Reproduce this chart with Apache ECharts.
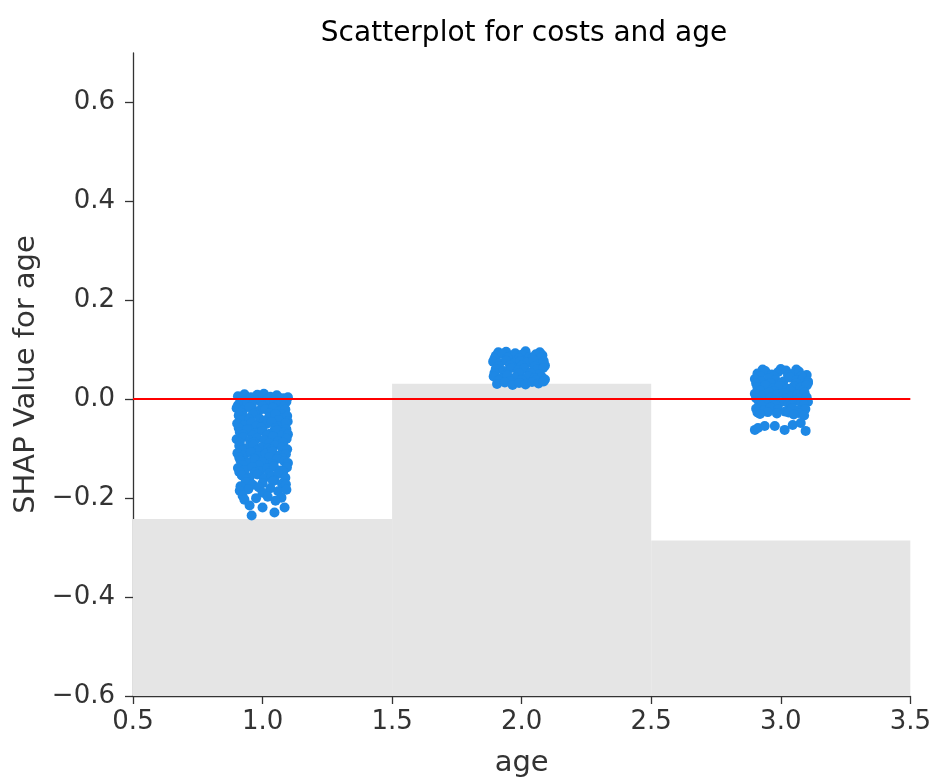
<!DOCTYPE html>
<html>
<head>
<meta charset="utf-8">
<style>
html,body{margin:0;padding:0;background:#fff;overflow:hidden;width:100%;height:100%;}
#chart{width:100vw;height:100vh;}
</style>
<script src="https://cdn.jsdelivr.net/npm/echarts@6/dist/echarts.min.js"></script>
</head>
<body>
<div id="chart"></div>
<script>
// ---- data ----
const titleText = 'Scatterplot for costs and age';
const xLabel = 'age';
const yLabel = 'SHAP Value for age';
const xTicks = [0.5, 1.0, 1.5, 2.0, 2.5, 3.0, 3.5];
const yTicks = [-0.6, -0.4, -0.2, 0.0, 0.2, 0.4, 0.6];
const binEdges = [0.5, 1.5, 2.5, 3.5];
const binHeights = [-0.242, 0.0315, -0.2856];
const zeroLineValue = 0;

const age1Points = [
  [0.905,0.006],[0.93,0.010],[0.955,0.004],[0.98,0.009],[1.005,0.011],[1.03,0.005],[1.055,0.008],[1.08,0.002],
  [0.918,0.001],[0.965,0.003],[1.017,0.000],[1.066,0.002],[1.098,0.004],
  [0.915,-0.004],[0.94,-0.008],[0.97,-0.002],[0.995,-0.006],[1.02,-0.010],[1.045,-0.003],[1.07,-0.007],[1.092,-0.005],
  [0.905,-0.012],[0.958,-0.013],[1.00,-0.014],[1.056,-0.012],[1.082,-0.015],
  [0.90,-0.018],[0.925,-0.022],[0.95,-0.016],[0.985,-0.024],[1.01,-0.020],[1.04,-0.017],[1.062,-0.025],[1.088,-0.021],
  [0.915,-0.027],[0.97,-0.029],[1.028,-0.028],[1.075,-0.030],
  [0.908,-0.033],[0.935,-0.038],[0.962,-0.031],[0.99,-0.040],[1.025,-0.036],[1.05,-0.030],[1.078,-0.039],[1.095,-0.034],
  [0.92,-0.043],[0.948,-0.041],[1.005,-0.044],[1.062,-0.042],[1.097,-0.045],
  [0.902,-0.049],[0.928,-0.053],[0.958,-0.047],[0.976,-0.055],[1.015,-0.050],[1.035,-0.046],[1.066,-0.054],[1.09,-0.048],
  [0.908,-0.058],[0.945,-0.060],[0.995,-0.057],[1.048,-0.059],[1.092,-0.061],
  [0.912,-0.066],[0.94,-0.062],[0.97,-0.069],[1.00,-0.064],[1.028,-0.070],[1.055,-0.063],[1.082,-0.067],
  [0.925,-0.072],[0.962,-0.074],[1.018,-0.073],[1.072,-0.074],[1.098,-0.071],
  [0.90,-0.081],[0.924,-0.077],[0.952,-0.084],[0.98,-0.079],[1.008,-0.083],[1.04,-0.076],[1.06,-0.085],[1.093,-0.080],
  [0.912,-0.088],[0.966,-0.087],[1.025,-0.089],[1.08,-0.088],
  [0.91,-0.094],[0.938,-0.099],[0.965,-0.092],[0.995,-0.097],[1.022,-0.100],[1.048,-0.093],[1.075,-0.098],
  [0.922,-0.103],[0.978,-0.104],[1.035,-0.102],[1.095,-0.101],
  [0.903,-0.109],[0.93,-0.113],[0.955,-0.107],[0.984,-0.115],[1.012,-0.110],[1.038,-0.106],[1.065,-0.114],[1.09,-0.111],
  [0.91,-0.118],[0.967,-0.119],[1.025,-0.117],[1.078,-0.120],
  [0.915,-0.124],[0.945,-0.128],[0.972,-0.122],[1.00,-0.127],[1.03,-0.130],[1.056,-0.121],[1.084,-0.126],
  [0.922,-0.133],[0.985,-0.134],[1.04,-0.131],[1.098,-0.129],
  [0.905,-0.139],[0.932,-0.143],[0.96,-0.137],[0.99,-0.145],[1.018,-0.140],[1.044,-0.136],[1.07,-0.144],[1.094,-0.138],
  [0.91,-0.147],[0.97,-0.148],[1.025,-0.149],[1.08,-0.146],
  [0.92,-0.154],[0.95,-0.158],[0.98,-0.152],[1.005,-0.160],[1.035,-0.156],[1.06,-0.151],[1.088,-0.159],
  [0.935,-0.163],[1.045,-0.164],
  [0.935,-0.168],[0.962,-0.173],[1.00,-0.170],[1.04,-0.166],[1.075,-0.171],
  [0.915,-0.176],[0.945,-0.182],[0.985,-0.178],[1.03,-0.180],[1.06,-0.186],[1.09,-0.172],
  [0.912,-0.185],[0.923,-0.195],[1.00,-0.189],[1.073,-0.199],[1.092,-0.183],
  [0.93,-0.203],[0.975,-0.200],[1.02,-0.197],[1.05,-0.205],
  [0.95,-0.215],[1.00,-0.219],[1.085,-0.219],[1.046,-0.229],[0.958,-0.235]
];
const age2Points = [
  [1.91,0.095],[1.94,0.096],[2.015,0.097],[2.07,0.095],
  [1.90,0.088],[1.925,0.092],[1.955,0.086],[1.975,0.093],[2.00,0.090],[2.03,0.085],[2.055,0.091],[2.08,0.089],
  [1.895,0.082],[1.945,0.084],[1.99,0.083],[2.04,0.082],[2.075,0.084],
  [1.89,0.076],[1.915,0.073],[1.94,0.078],[1.97,0.072],[1.995,0.077],[2.02,0.074],[2.045,0.079],[2.07,0.071],[2.085,0.077],
  [1.91,0.067],[1.955,0.069],[2.00,0.068],[2.05,0.066],[2.09,0.068],
  [1.90,0.061],[1.93,0.057],[1.96,0.063],[1.985,0.058],[2.01,0.062],[2.04,0.056],[2.06,0.060],[2.083,0.063],
  [1.895,0.053],[1.94,0.051],[1.99,0.052],[2.035,0.053],[2.07,0.051],
  [1.892,0.046],[1.92,0.042],[1.945,0.048],[1.975,0.044],[2.005,0.041],[2.025,0.047],[2.05,0.043],[2.078,0.045],
  [1.91,0.038],[1.955,0.037],[2.00,0.039],[2.055,0.038],[2.09,0.040],
  [1.905,0.031],[1.935,0.034],[1.965,0.029],[1.99,0.033],[2.015,0.030],[2.04,0.035],[2.065,0.032],[2.085,0.036]
];
const age3Points = [
  [2.93,0.060],[3.00,0.061],[3.06,0.060],
  [2.91,0.052],[2.94,0.057],[2.965,0.050],[2.99,0.055],[3.02,0.058],[3.045,0.051],[3.07,0.056],[3.10,0.049],
  [2.92,0.047],[2.975,0.046],[3.028,0.048],[3.08,0.047],
  [2.90,0.041],[2.925,0.037],[2.955,0.043],[2.98,0.039],[3.01,0.036],[3.035,0.044],[3.06,0.038],[3.085,0.042],[3.105,0.036],
  [2.905,0.032],[2.96,0.033],[3.00,0.031],[3.06,0.032],[3.105,0.033],
  [2.91,0.024],[2.94,0.028],[2.97,0.022],[2.995,0.027],[3.025,0.021],[3.05,0.026],[3.075,0.023],[3.10,0.028],
  [2.92,0.017],[2.975,0.016],[3.035,0.018],[3.085,0.017],
  [2.90,0.011],[2.93,0.007],[2.955,0.013],[2.985,0.009],[3.012,0.012],[3.04,0.006],[3.065,0.010],[3.092,0.013],
  [2.905,0.002],[2.96,0.003],[3.02,0.001],[3.07,0.002],[3.10,0.004],
  [2.915,-0.004],[2.945,-0.008],[2.975,-0.002],[3.00,-0.006],[3.03,-0.009],[3.055,-0.003],[3.08,-0.007],[3.105,-0.005],
  [2.925,-0.013],[2.98,-0.012],[3.04,-0.013],[3.09,-0.011],
  [2.905,-0.019],[2.935,-0.023],[2.96,-0.017],[2.99,-0.021],[3.018,-0.025],[3.045,-0.018],[3.07,-0.022],[3.095,-0.020],
  [2.91,-0.027],[2.95,-0.026],[3.03,-0.027],[3.07,-0.028],
  [2.92,-0.030],[2.985,-0.029],[3.05,-0.031],[3.09,-0.033],
  [2.90,-0.062],[2.912,-0.058],[2.938,-0.054],[2.977,-0.054],[3.015,-0.062],[3.046,-0.052],[3.077,-0.048],[3.096,-0.064]
];

// ---- chart ----
const FONT = 'DejaVu Sans';
const AXIS_COLOR = '#333333';
const fmt = v => (Math.round(v * 10) / 10).toFixed(1).replace('-', '\u2212');
const binData = binHeights.map((h, i) => [binEdges[i], binEdges[i + 1], h]);
const yMin = yTicks[0];

const chart = echarts.init(document.getElementById('chart'), null, {renderer: 'canvas'});
chart.setOption({
  animation: false,
  backgroundColor: '#ffffff',
  title: {
    text: titleText,
    left: 519,
    top: 15,
    textAlign: 'center',
    textStyle: {fontFamily: FONT, fontSize: 28, fontWeight: 'normal', color: '#000000'}
  },
  grid: {left: 133, right: 21, top: 53, bottom: 83, containLabel: false},
  xAxis: {
    type: 'value', min: 0.5, max: 3.5, interval: 0.5,
    name: xLabel, nameLocation: 'middle', nameGap: 53,
    nameTextStyle: {fontFamily: FONT, fontSize: 29, color: AXIS_COLOR},
    axisLine: {show: true, onZero: false, lineStyle: {color: AXIS_COLOR, width: 1.3}},
    axisTick: {show: true, length: 8, lineStyle: {color: AXIS_COLOR, width: 1.3}, customValues: xTicks},
    axisLabel: {fontFamily: FONT, fontSize: 26, color: AXIS_COLOR, margin: 13, formatter: fmt, customValues: xTicks},
    splitLine: {show: false}
  },
  yAxis: {
    type: 'value', min: -0.6, max: 0.7,
    name: yLabel, nameLocation: 'middle', nameGap: 86,
    nameTextStyle: {fontFamily: FONT, fontSize: 29, color: AXIS_COLOR},
    axisLine: {show: true, onZero: false, lineStyle: {color: AXIS_COLOR, width: 1.3}},
    axisTick: {show: true, length: 8, lineStyle: {color: AXIS_COLOR, width: 1.3}, customValues: yTicks},
    axisLabel: {fontFamily: FONT, fontSize: 26, color: AXIS_COLOR, margin: 18, formatter: fmt, customValues: yTicks},
    splitLine: {show: false}
  },
  series: [
    {
      type: 'custom', z: 1, silent: true,
      data: binData,
      encode: {x: [0, 1], y: 2},
      renderItem: function (params, api) {
        const p0 = api.coord([api.value(0), api.value(2)]);
        const p1 = api.coord([api.value(1), yMin]);
        return {type: 'rect', shape: {x: p0[0], y: p0[1], width: p1[0] - p0[0], height: p1[1] - p0[1]},
                style: {fill: '#e5e5e5'}};
      }
    },
    {type: 'scatter', z: 2, symbol: 'circle', symbolSize: 10, data: age1Points, itemStyle: {color: '#1E88E5', opacity: 1}},
    {type: 'scatter', z: 2, symbol: 'circle', symbolSize: 10, data: age2Points, itemStyle: {color: '#1E88E5', opacity: 1}},
    {type: 'scatter', z: 2, symbol: 'circle', symbolSize: 10, data: age3Points, itemStyle: {color: '#1E88E5', opacity: 1}},
    {
      type: 'line', z: 5, data: [], silent: true,
      markLine: {
        silent: true, symbol: 'none', animation: false,
        label: {show: false},
        lineStyle: {color: '#ff0000', width: 2, type: 'solid'},
        data: [{yAxis: zeroLineValue}]
      }
    }
  ]
});
</script>
</body>
</html>
